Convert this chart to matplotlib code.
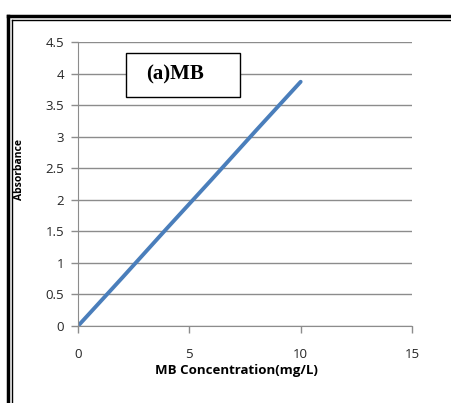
import matplotlib.pyplot as plt
from matplotlib.lines import Line2D
from matplotlib.patches import Rectangle

# calibration data
conc = [0, 2, 4, 6, 8, 10]
absorbance = [0, 0.77, 1.55, 2.32, 3.10, 3.87]
x_ticks = [0, 5, 10, 15]
y_ticks = [0, 0.5, 1, 1.5, 2, 2.5, 3, 3.5, 4, 4.5]
y_labels = ['0', '0.5', '1', '1.5', '2', '2.5', '3', '3.5', '4', '4.5']

W, H = 452, 403
fig = plt.figure(figsize=(W / 100, H / 100), dpi=100)
ax = fig.add_axes([78 / W, 1 - 326 / H, (412 - 78) / W, (326 - 42) / H])

ax.plot(conc, absorbance, color='#4a7ebb', linewidth=2.8, solid_capstyle='round')

ax.set_xlim(0, 15)
ax.set_ylim(0, 4.5)
ax.set_xticks(x_ticks)
ax.set_yticks(y_ticks)
ax.set_yticklabels(y_labels)
ax.grid(axis='y', color='#8c8c8c', linewidth=1)
ax.set_axisbelow(True)
for s in ['top', 'right']:
    ax.spines[s].set_visible(False)
for s in ['left', 'bottom']:
    ax.spines[s].set_color('#8c8c8c')
ax.tick_params(axis='both', colors='#8c8c8c', length=5, width=1,
               labelcolor='#262626', labelsize=9.5)
ax.tick_params(axis='x', pad=11)
ax.tick_params(axis='y', pad=5)
for lbl in ax.get_xticklabels() + ax.get_yticklabels():
    lbl.set_fontfamily('Open Sans')

ax.set_xlabel('MB Concentration(mg/L)', fontsize=9.5, fontweight='bold',
              family='Open Sans')
ax.xaxis.set_label_coords((236 - 78) / 334, -(364 - 326) / 284)
fig.text(20 / W, 1 - 170 / H, 'Absorbance', rotation=90, fontsize=7.5,
         fontweight='bold', family='Open Sans', ha='center', va='center')

# label box
ax.add_patch(Rectangle((0.1437, 0.806), 0.341, 0.155, transform=ax.transAxes,
                       facecolor='white', edgecolor='black', linewidth=1, zorder=5))
ax.text(0.204, 0.884, '(a)MB', transform=ax.transAxes, fontsize=15,
        fontweight='bold', family='Liberation Serif', va='center', zorder=6)

# double frame
def px(x, y):
    return x / W, 1 - y / H

for (x0, y0), lw in [((8, 16), 2.5), ((11.5, 20), 1.0)]:
    fig.add_artist(Line2D([px(x0, y0)[0], 1], [px(x0, y0)[1]] * 2,
                          color='black', linewidth=lw, transform=fig.transFigure))
    fig.add_artist(Line2D([px(x0, y0)[0]] * 2, [px(x0, y0)[1], 0],
                          color='black', linewidth=lw, transform=fig.transFigure))

fig.savefig('out.png', dpi=100)
